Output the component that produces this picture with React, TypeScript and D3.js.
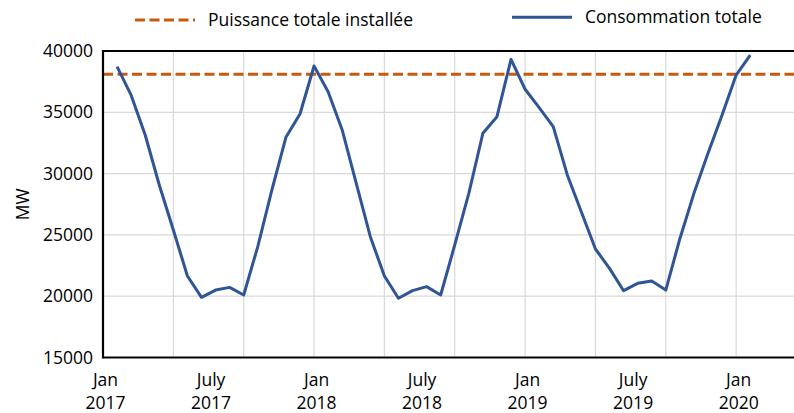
import React from 'react';
import * as d3 from 'd3';

// monthly-ish readings
const consommation = [
  38720, 36400, 33150, 29070, 25400, 21650, 19910, 20500, 20720, 20100,
  24040, 28660, 32960, 34860, 38780, 36680, 33560, 29210, 24850, 21650,
  19830, 20450, 20780, 20100, 24180, 28390, 33290, 34640, 39320, 36880,
  35380, 33830, 29890, 26870, 23850, 22270, 20450, 21050, 21240, 20500,
  24690, 28390, 31660, 34780, 38040, 39670,
];
const puissanceInstallee = 38100;
const yTicks = [15000, 20000, 25000, 30000, 35000, 40000];
const xLabels = [
  ['Jan', '2017'],
  ['July', '2017'],
  ['Jan', '2018'],
  ['July', '2018'],
  ['Jan', '2019'],
  ['July', '2019'],
  ['Jan', '2020'],
];
const legendNames = ['Puissance totale installée', 'Consommation totale'];

const W = 794;
const H = 413;
const FONT = '"Open Sans", "Noto Sans", sans-serif';
const BLUE = '#2f5597';
const ORANGE = '#c55a11';

export default function App() {
  const left = 103;
  const top = 51;
  const bottom = 357.5;
  const nCats = 50; // category slots on the axis, first one is empty

  const x = d3.scaleLinear().domain([0, nCats]).range([left, 806.5]);
  const y = d3.scaleLinear().domain([15000, 40000]).range([bottom, top]);

  const lineGen = d3
    .line<number>()
    .x((_, i) => x(i + 1))
    .y((d) => y(d));

  const gridCats = d3.range(5, nCats + 1, 5);

  return (
    <div>
      <style>{`body{margin:0}`}</style>
      <svg width={W} height={H} style={{ display: 'block', background: '#fff' }} fontFamily={FONT}>
        {/* grid */}
        {yTicks.map((t) => (
          <line key={'gy' + t} x1={left} x2={W} y1={y(t)} y2={y(t)} stroke="#d9d9d9" strokeWidth={1.2} />
        ))}
        {gridCats.map((c) => (
          <line key={'gx' + c} x1={x(c)} x2={x(c)} y1={top} y2={bottom} stroke="#d9d9d9" strokeWidth={1.2} />
        ))}

        {/* installed capacity */}
        <line
          x1={left}
          x2={W}
          y1={y(puissanceInstallee)}
          y2={y(puissanceInstallee)}
          stroke={ORANGE}
          strokeWidth={3}
          strokeDasharray="10,4.5"
        />

        {/* consumption */}
        <path d={lineGen(consommation) || ''} fill="none" stroke={BLUE} strokeWidth={3} strokeLinejoin="round" />

        {/* frame */}
        <line x1={left} x2={W} y1={top} y2={top} stroke="#000" strokeWidth={2.2} />
        <line x1={left} x2={W} y1={bottom} y2={bottom} stroke="#000" strokeWidth={2.2} />
        <line x1={left} x2={left} y1={top - 1} y2={bottom + 1} stroke="#000" strokeWidth={2.2} />

        {/* y axis labels */}
        {yTicks.map((t) => (
          <text key={'ty' + t} x={left - 10} y={y(t)} dy="0.35em" textAnchor="end" fontSize={17.5} fill="#000">
            {t}
          </text>
        ))}
        <text
          transform={`translate(23,${(top + bottom) / 2}) rotate(-90)`}
          textAnchor="middle"
          dy="0.35em"
          fontSize={17.5}
          fill="#000"
        >
          MW
        </text>

        {/* x axis labels */}
        {xLabels.map((lab, i) => (
          <text key={'tx' + i} x={x(i * 7.5) + 2.5} textAnchor="middle" fontSize={17.5} fill="#000">
            <tspan x={x(i * 7.5) + 2.5} y={386}>{lab[0]}</tspan>
            <tspan x={x(i * 7.5) + 2.5} y={409}>{lab[1]}</tspan>
          </text>
        ))}

        {/* legend */}
        <line x1={135} x2={195} y1={20} y2={20} stroke={ORANGE} strokeWidth={3} strokeDasharray="10,4.5" />
        <text x={208} y={20} dy="0.35em" fontSize={17.5} fill="#000">
          {legendNames[0]}
        </text>
        <line x1={512} x2={572} y1={17.3} y2={17.3} stroke={BLUE} strokeWidth={3} />
        <text x={585} y={17.3} dy="0.35em" fontSize={17.5} fill="#000">
          {legendNames[1]}
        </text>
      </svg>
    </div>
  );
}
